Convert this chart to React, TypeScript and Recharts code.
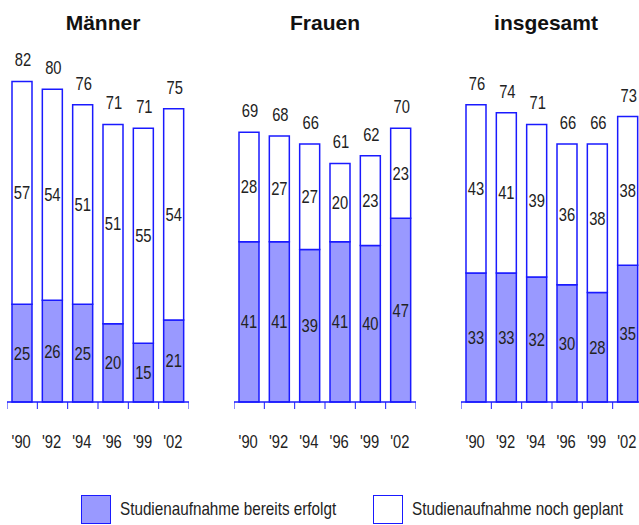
import React from 'react';
import { BarChart, Bar, XAxis, YAxis, LabelList } from 'recharts';

const years = ["'90", "'92", "'94", "'96", "'99", "'02"];

const maennerErfolgt = [25, 26, 25, 20, 15, 21];
const maennerGeplant = [57, 54, 51, 51, 55, 54];
const maennerGesamt = [82, 80, 76, 71, 71, 75];

const frauenErfolgt = [41, 41, 39, 41, 40, 47];
const frauenGeplant = [28, 27, 27, 20, 23, 23];
const frauenGesamt = [69, 68, 66, 61, 62, 70];

const insgesamtErfolgt = [33, 33, 32, 30, 28, 35];
const insgesamtGeplant = [43, 41, 39, 36, 38, 38];
const insgesamtGesamt = [76, 74, 71, 66, 66, 73];

const BLUE = '#1a1aff';
const FILL = '#9999ff';
const FONT = '"Liberation Sans", Arial, sans-serif';
const SQUEEZE = 0.82; // reference font is a condensed face
const PLOT_W = 182;
const BAND = PLOT_W / years.length;

const buildRows = (erfolgt: number[], geplant: number[], gesamt: number[]) =>
  years.map((year, i) => ({ year, erfolgt: erfolgt[i], geplant: geplant[i], gesamt: gesamt[i] }));

// narrow text drawn at (x, baseline y)
const NarrowText = ({ x, y, children }: { x: number; y: number; children: any }) => (
  <text
    transform={`translate(${x},${y}) scale(${SQUEEZE},1)`}
    textAnchor="middle"
    fontSize={18}
    fontFamily={FONT}
    fill="#222"
  >
    {children}
  </text>
);

const centerLabel = (props: any) => {
  const { x, y, width, height, value } = props;
  return <NarrowText x={x + width / 2} y={y + height / 2 + 6.4}>{value}</NarrowText>;
};

const topLabel = (props: any) => {
  const { x, y, width, value } = props;
  return <NarrowText x={x + width / 2 + 1} y={y - 15}>{value}</NarrowText>;
};

const YearTick = (props: any) => {
  const { x, y, payload, index } = props;
  const left = x - BAND / 2;
  return (
    <g>
      <line x1={left} y1={y} x2={left} y2={y + 7} stroke={BLUE} strokeWidth={1} />
      {index === years.length - 1 && (
        <line x1={left + BAND} y1={y} x2={left + BAND} y2={y + 7} stroke={BLUE} strokeWidth={1} />
      )}
      <NarrowText x={x - 1} y={y + 46}>{payload.value}</NarrowText>
    </g>
  );
};

function Panel({ title, left, titleShift, rows }: { title: string; left: number; titleShift: number; rows: any[] }) {
  return (
    <div style={{ position: 'absolute', left, top: 0, width: PLOT_W, height: 450 }}>
      <div
        style={{
          position: 'absolute',
          left: -40 + titleShift,
          width: PLOT_W + 80,
          top: 11,
          textAlign: 'center',
          fontFamily: FONT,
          fontWeight: 'bold',
          fontSize: 21,
          lineHeight: '24px',
          color: '#111',
          zIndex: 2,
        }}
      >
        {title}
      </div>
      <BarChart
        width={PLOT_W}
        height={450}
        data={rows}
        margin={{ top: 11, right: 0, left: 0, bottom: 0 }}
        style={{ overflow: 'visible' }}
      >
        <YAxis hide domain={[0, 100]} />
        <XAxis
          dataKey="year"
          height={48}
          interval={0}
          tickLine={false}
          tickSize={0}
          tickMargin={0}
          axisLine={{ stroke: BLUE, strokeWidth: 1.5 }}
          tick={YearTick}
        />
        <Bar dataKey="erfolgt" stackId="a" barSize={20} fill={FILL} stroke={BLUE} strokeWidth={1.5} isAnimationActive={false}>
          <LabelList dataKey="erfolgt" content={centerLabel} />
        </Bar>
        <Bar dataKey="geplant" stackId="a" barSize={20} fill="#ffffff" stroke={BLUE} strokeWidth={1.5} isAnimationActive={false}>
          <LabelList dataKey="geplant" content={centerLabel} />
          <LabelList dataKey="gesamt" content={topLabel} />
        </Bar>
      </BarChart>
    </div>
  );
}

const LegendItem = ({ left, fill, label }: { left: number; fill: string; label: string }) => (
  <div style={{ position: 'absolute', left, top: 494, height: 30, display: 'flex', alignItems: 'center', whiteSpace: 'nowrap' }}>
    <div style={{ width: 28, height: 27, background: fill, border: `1.5px solid ${BLUE}` }} />
    <span
      style={{
        marginLeft: 9,
        fontFamily: FONT,
        fontSize: 18.6,
        color: '#222',
        display: 'inline-block',
        transform: `scaleX(${SQUEEZE})`,
        transformOrigin: 'left center',
      }}
    >
      {label}
    </span>
  </div>
);

export default function App() {
  return (
    <div style={{ position: 'absolute', left: 0, top: 0, width: 639, height: 525, overflow: 'hidden', background: '#fff' }}>
      <Panel title="Männer" left={7} titleShift={5} rows={buildRows(maennerErfolgt, maennerGeplant, maennerGesamt)} />
      <Panel title="Frauen" left={234} titleShift={0} rows={buildRows(frauenErfolgt, frauenGeplant, frauenGesamt)} />
      <Panel title="insgesamt" left={461} titleShift={-6} rows={buildRows(insgesamtErfolgt, insgesamtGeplant, insgesamtGesamt)} />
      <LegendItem left={81} fill={FILL} label="Studienaufnahme bereits erfolgt" />
      <LegendItem left={373} fill="#ffffff" label="Studienaufnahme noch geplant" />
    </div>
  );
}
